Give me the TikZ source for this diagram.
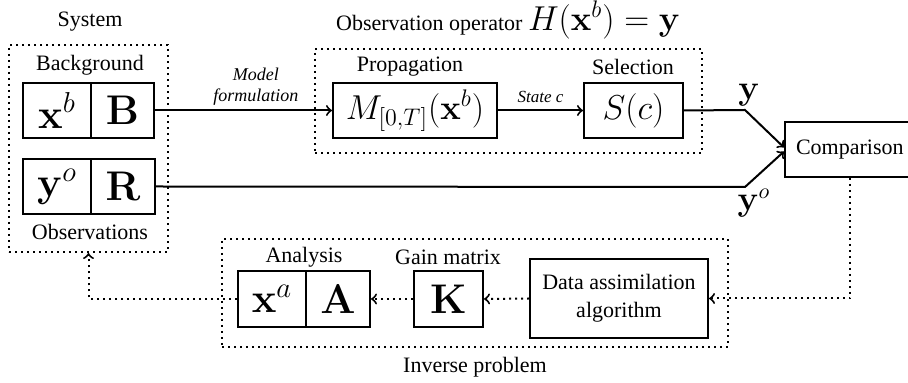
\documentclass[tikz,border=0pt]{standalone}
\usepackage{amsmath}
\usepackage{amssymb}
\usepackage[no-math]{fontspec}
\setmainfont{Liberation Serif}
\usepackage{tikz}
\usetikzlibrary{positioning, arrows.meta, arrows}

\begin{document}
\begin{tikzpicture}[x=0.5pt,y=-0.5pt,>=to,line width=1pt,
    font=\fontsize{11}{13}\selectfont,
    box/.style={draw,rectangle,minimum height=27.5pt,inner sep=0pt,font=\fontsize{20}{22}\selectfont},
    group/.style={draw,dotted,rectangle,inner sep=0pt},
    edgelabel/.style={font=\fontsize{9}{10.5}\selectfont\itshape,align=center}]
    \useasboundingbox (0,0) rectangle (908,383);

    % system
    \node[group,minimum width=79.5pt,minimum height=103.5pt] (sys) at (88.5,148.5) {};
    \node (systxt) at (90,22) {System};
    \node (bgtxt) at (90,65) {Background};
    \node[box,minimum width=34pt] (xb) at (57,110.5) {$\mathbf{x}^b$};
    \node[box,minimum width=31.5pt] (B) at (122.5,110.5) {$\mathbf{B}$};
    \node[box,minimum width=34pt] (yo) at (57,186.5) {$\mathbf{y}^o$};
    \node[box,minimum width=32pt] (R) at (123,186.5) {$\mathbf{R}$};
    \node (obstxt) at (90,232) {Observations};

    % observation operator
    \node[group,minimum width=193.5pt,minimum height=52pt] (obsop) at (508.5,101) {};
    \node (obsoptxt) at (508,20) {Observation operator {\fontsize{18}{20}\selectfont$H(\mathbf{x}^b) = \mathbf{y}$}};
    \node (proptxt) at (410,67) {Propagation};
    \node[box,minimum width=82pt,font=\fontsize{18.5}{20}\selectfont] (prop) at (415,110.5) {$M_{[0,T]}(\mathbf{x}^b)$};
    \node (seltxt) at (633,67) {Selection};
    \node[box,minimum width=49.5pt,font=\fontsize{18.5}{20}\selectfont] (sel) at (633.5,110.5) {$S(c)$};

    \node[box,minimum width=65pt,font=\fontsize{11}{13}\selectfont,text width=54pt] (comp) at (850,149.5) {Comparison};
    \coordinate (ya) at (745,110);
    \coordinate (yb) at (745,187);
    \node (ytxt) at (749,95) {\fontsize{16}{18}\selectfont$\mathbf{y}$};
    \node (yotxt) at (754,203) {\fontsize{16}{18}\selectfont$\mathbf{y}^o$};

    % inverse problem
    \node[group,minimum width=253pt,minimum height=54pt] (inv) at (475,293) {};
    \node (invtxt) at (475,367) {Inverse problem};
    \node (antxt) at (304,257) {Analysis};
    \node[box,minimum width=34pt,minimum height=28pt] (xa) at (272,299) {$\mathbf{x}^a$};
    \node[box,minimum width=32pt,minimum height=28pt] (A) at (338,299) {$\mathbf{A}$};
    \node (gaintxt) at (448,257) {Gain matrix};
    \node[box,minimum width=34.5pt,minimum height=28pt] (K) at (448.5,299) {$\mathbf{K}$};
    \node[box,minimum width=89pt,minimum height=39.5pt,align=center,font=\fontsize{11}{14}\selectfont] (da) at (619,298.5) {Data assimilation\\algorithm};

    % forward path
    \draw[->] (B.east) -- node[edgelabel,above=-1.5pt,pos=0.57] {Model\\formulation} (prop.west);
    \draw[->] (prop.east) -- node[edgelabel,above,font=\fontsize{8.5}{10}\selectfont\itshape] {State c} (sel.west);
    \draw[->] (sel.east) -- (ya) -- ([yshift=1pt]comp.west);
    \draw[->] (R.east) -- (yb) -- ([yshift=-1pt]comp.west);

    % feedback path
    \draw[->,dotted] (comp.south) |- (da.east);
    \draw[->,dotted] (da.west) -- (K.east);
    \draw[->,dotted] (K.west) -- (A.east);
    \draw[->,dotted] (xa.west) -| (sys.south);
\end{tikzpicture}
\end{document}
